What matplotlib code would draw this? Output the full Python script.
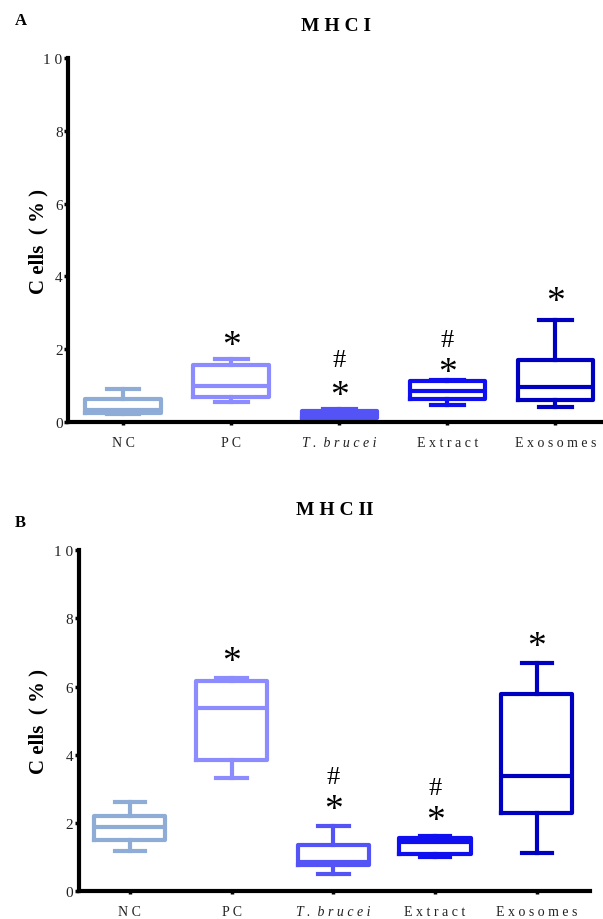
import matplotlib
matplotlib.use("Agg")
import matplotlib.pyplot as plt

plt.rcParams["font.family"] = ["Liberation Serif", "DejaVu Serif"]

groups = ["N C", "P C", "T .  b r u c e i", "E x t r a c t", "E x o s o m e s"]
colors = ["#8eacd6", "#8c8cff", "#5454f6", "#0f0ff0", "#0000c0"]
yticks = [0, 2, 4, 6, 8, 10]

# MHC I: whisker low, q1, median, q3, whisker high
mhc1_low = [0.22, 0.55, 0.07, 0.48, 0.41]
mhc1_q1 = [0.25, 0.69, 0.12, 0.64, 0.60]
mhc1_med = [0.33, 1.00, 0.20, 0.86, 0.96]
mhc1_q3 = [0.63, 1.56, 0.32, 1.12, 1.72]
mhc1_high = [0.90, 1.74, 0.35, 1.15, 2.81]
mhc1_star = [None, 2.1, 0.72, 1.37, 3.3]
mhc1_hash = [None, None, 1.7, 2.25, None]

# MHC II
mhc2_low = [1.18, 3.31, 0.52, 1.00, 1.12]
mhc2_q1 = [1.52, 3.84, 0.78, 1.09, 2.30]
mhc2_med = [1.90, 5.38, 0.86, 1.44, 3.39]
mhc2_q3 = [2.20, 6.16, 1.36, 1.55, 5.79]
mhc2_high = [2.61, 6.25, 1.93, 1.63, 6.69]
mhc2_star = [None, 6.74, 2.38, 2.07, 7.18]
mhc2_hash = [None, None, 3.34, 3.04, None]


def panel(ax, low, q1, med, q3, high, star, hsh, title, pad, lpad, xlim):
    for i in range(len(groups)):
        st = [dict(whislo=low[i], q1=q1[i], med=med[i], q3=q3[i], whishi=high[i], fliers=[])]
        c = colors[i]
        ax.bxp(st, positions=[i], widths=0.7, showfliers=False,
               boxprops=dict(color=c, linewidth=3),
               medianprops=dict(color=c, linewidth=3),
               whiskerprops=dict(color=c, linewidth=3),
               capprops=dict(color=c, linewidth=3),
               capwidths=0.3)
        if star[i] is not None:
            ax.text(i, star[i], "*", ha="center", va="center", fontsize=27)
        if hsh[i] is not None:
            ax.text(i, hsh[i], "#", ha="center", va="center", fontsize=19)
    ax.set_xlim(*xlim)
    ax.set_ylim(0, 10)
    ax.set_yticks(yticks)
    ax.set_yticklabels([" ".join(str(t)) for t in yticks])
    ax.set_xticks(range(len(groups)))
    ax.set_xticklabels(groups, fontsize=10)
    ax.get_xticklabels()[2].set_style("italic")
    ax.tick_params(axis="y", labelsize=11, width=2.5, length=3, pad=1, labelcolor="#222222")
    ax.tick_params(axis="x", width=2.5, length=2, pad=8, labelcolor="#222222")
    for s in ["top", "right"]:
        ax.spines[s].set_visible(False)
    for s in ["left", "bottom"]:
        ax.spines[s].set_linewidth(3)
    ax.set_ylabel("C ells  ( % )", fontsize=15, fontweight="bold", labelpad=lpad)
    ax.set_title(title, fontsize=14, fontweight="bold", pad=pad)


fig = plt.figure(figsize=(6.03, 9.2), dpi=100)
ax1 = fig.add_axes([0.113, 0.540, 0.887, 0.396])
ax2 = fig.add_axes([0.131, 0.030, 0.847, 0.371])

panel(ax1, mhc1_low, mhc1_q1, mhc1_med, mhc1_q3, mhc1_high, mhc1_star, mhc1_hash,
      "M H C I", 20, -3.5, (-0.51, 4.44))
panel(ax2, mhc2_low, mhc2_q1, mhc2_med, mhc2_q3, mhc2_high, mhc2_star, mhc2_hash,
      "M H C II", 26, 4, (-0.50, 4.52))

fig.text(0.025, 0.977, "A", fontsize=12, fontweight="bold", ha="left", va="center")
fig.text(0.025, 0.432, "B", fontsize=12, fontweight="bold", ha="left", va="center")

fig.savefig("out.png", dpi=100)
